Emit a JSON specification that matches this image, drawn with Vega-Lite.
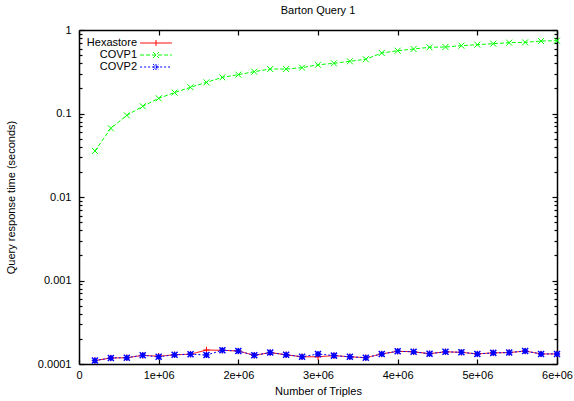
{
  "$schema": "https://vega.github.io/schema/vega-lite/v6.json",
  "width": 478,
  "height": 334,
  "autosize": "none",
  "padding": {"left": 79, "top": 30, "right": 17, "bottom": 37},
  "background": "white",
  "config": {
    "font": "Liberation Sans",
    "view": {"stroke": null},
    "axis": {"grid": false, "labelFont": "Liberation Sans", "titleFont": "Liberation Sans", "labelFontSize": 11, "titleFontSize": 11, "titleFontWeight": "normal", "labelColor": "black", "titleColor": "black", "domainColor": "black", "tickColor": "black", "domainWidth": 1.5, "tickWidth": 1.2}
  },
  "title": {"text": "Barton Query 1", "fontSize": 11, "fontWeight": "normal", "font": "Liberation Sans", "color": "black", "offset": 8},
  "data": {
    "values": [
      {"triples": 200000, "series": "Hexastore", "time": 0.000110},
      {"triples": 400000, "series": "Hexastore", "time": 0.000118},
      {"triples": 600000, "series": "Hexastore", "time": 0.000119},
      {"triples": 800000, "series": "Hexastore", "time": 0.000127},
      {"triples": 1000000, "series": "Hexastore", "time": 0.000124},
      {"triples": 1200000, "series": "Hexastore", "time": 0.000129},
      {"triples": 1400000, "series": "Hexastore", "time": 0.000131},
      {"triples": 1600000, "series": "Hexastore", "time": 0.000147},
      {"triples": 1800000, "series": "Hexastore", "time": 0.000146},
      {"triples": 2000000, "series": "Hexastore", "time": 0.000143},
      {"triples": 2200000, "series": "Hexastore", "time": 0.000127},
      {"triples": 2400000, "series": "Hexastore", "time": 0.000137},
      {"triples": 2600000, "series": "Hexastore", "time": 0.000129},
      {"triples": 2800000, "series": "Hexastore", "time": 0.000122},
      {"triples": 3000000, "series": "Hexastore", "time": 0.000122},
      {"triples": 3200000, "series": "Hexastore", "time": 0.000126},
      {"triples": 3400000, "series": "Hexastore", "time": 0.000122},
      {"triples": 3600000, "series": "Hexastore", "time": 0.000119},
      {"triples": 3800000, "series": "Hexastore", "time": 0.000132},
      {"triples": 4000000, "series": "Hexastore", "time": 0.000142},
      {"triples": 4200000, "series": "Hexastore", "time": 0.000140},
      {"triples": 4400000, "series": "Hexastore", "time": 0.000133},
      {"triples": 4600000, "series": "Hexastore", "time": 0.000140},
      {"triples": 4800000, "series": "Hexastore", "time": 0.000138},
      {"triples": 5000000, "series": "Hexastore", "time": 0.000132},
      {"triples": 5200000, "series": "Hexastore", "time": 0.000136},
      {"triples": 5400000, "series": "Hexastore", "time": 0.000137},
      {"triples": 5600000, "series": "Hexastore", "time": 0.000143},
      {"triples": 5800000, "series": "Hexastore", "time": 0.000132},
      {"triples": 6000000, "series": "Hexastore", "time": 0.000132},
      {"triples": 200000, "series": "COVP1", "time": 0.0356},
      {"triples": 400000, "series": "COVP1", "time": 0.0665},
      {"triples": 600000, "series": "COVP1", "time": 0.095},
      {"triples": 800000, "series": "COVP1", "time": 0.122},
      {"triples": 1000000, "series": "COVP1", "time": 0.152},
      {"triples": 1200000, "series": "COVP1", "time": 0.178},
      {"triples": 1400000, "series": "COVP1", "time": 0.206},
      {"triples": 1600000, "series": "COVP1", "time": 0.236},
      {"triples": 1800000, "series": "COVP1", "time": 0.271},
      {"triples": 2000000, "series": "COVP1", "time": 0.292},
      {"triples": 2200000, "series": "COVP1", "time": 0.317},
      {"triples": 2400000, "series": "COVP1", "time": 0.341},
      {"triples": 2600000, "series": "COVP1", "time": 0.341},
      {"triples": 2800000, "series": "COVP1", "time": 0.354},
      {"triples": 3000000, "series": "COVP1", "time": 0.383},
      {"triples": 3200000, "series": "COVP1", "time": 0.399},
      {"triples": 3400000, "series": "COVP1", "time": 0.422},
      {"triples": 3600000, "series": "COVP1", "time": 0.446},
      {"triples": 3800000, "series": "COVP1", "time": 0.530},
      {"triples": 4000000, "series": "COVP1", "time": 0.565},
      {"triples": 4200000, "series": "COVP1", "time": 0.592},
      {"triples": 4400000, "series": "COVP1", "time": 0.621},
      {"triples": 4600000, "series": "COVP1", "time": 0.626},
      {"triples": 4800000, "series": "COVP1", "time": 0.649},
      {"triples": 5000000, "series": "COVP1", "time": 0.667},
      {"triples": 5200000, "series": "COVP1", "time": 0.686},
      {"triples": 5400000, "series": "COVP1", "time": 0.705},
      {"triples": 5600000, "series": "COVP1", "time": 0.711},
      {"triples": 5800000, "series": "COVP1", "time": 0.738},
      {"triples": 6000000, "series": "COVP1", "time": 0.745},
      {"triples": 200000, "series": "COVP2", "time": 0.000110},
      {"triples": 400000, "series": "COVP2", "time": 0.000118},
      {"triples": 600000, "series": "COVP2", "time": 0.000119},
      {"triples": 800000, "series": "COVP2", "time": 0.000127},
      {"triples": 1000000, "series": "COVP2", "time": 0.000122},
      {"triples": 1200000, "series": "COVP2", "time": 0.000129},
      {"triples": 1400000, "series": "COVP2", "time": 0.000131},
      {"triples": 1600000, "series": "COVP2", "time": 0.000128},
      {"triples": 1800000, "series": "COVP2", "time": 0.000146},
      {"triples": 2000000, "series": "COVP2", "time": 0.000143},
      {"triples": 2200000, "series": "COVP2", "time": 0.000127},
      {"triples": 2400000, "series": "COVP2", "time": 0.000137},
      {"triples": 2600000, "series": "COVP2", "time": 0.000129},
      {"triples": 2800000, "series": "COVP2", "time": 0.000122},
      {"triples": 3000000, "series": "COVP2", "time": 0.000132},
      {"triples": 3200000, "series": "COVP2", "time": 0.000126},
      {"triples": 3400000, "series": "COVP2", "time": 0.000122},
      {"triples": 3600000, "series": "COVP2", "time": 0.000119},
      {"triples": 3800000, "series": "COVP2", "time": 0.000132},
      {"triples": 4000000, "series": "COVP2", "time": 0.000142},
      {"triples": 4200000, "series": "COVP2", "time": 0.000140},
      {"triples": 4400000, "series": "COVP2", "time": 0.000133},
      {"triples": 4600000, "series": "COVP2", "time": 0.000140},
      {"triples": 4800000, "series": "COVP2", "time": 0.000138},
      {"triples": 5000000, "series": "COVP2", "time": 0.000132},
      {"triples": 5200000, "series": "COVP2", "time": 0.000136},
      {"triples": 5400000, "series": "COVP2", "time": 0.000137},
      {"triples": 5600000, "series": "COVP2", "time": 0.000143},
      {"triples": 5800000, "series": "COVP2", "time": 0.000132},
      {"triples": 6000000, "series": "COVP2", "time": 0.000132}
    ]
  },
  "resolve": {"axis": {"x": "independent", "y": "independent"}},
  "layer": [
    {
      "mark": {"type": "line", "strokeWidth": 1, "clip": true},
      "encoding": {
        "x": {"field": "triples", "type": "quantitative", "scale": {"domain": [0, 6000000], "nice": false, "zero": false},
              "axis": {"orient": "bottom", "title": "Number of Triples", "values": [0, 1000000, 2000000, 3000000, 4000000, 5000000, 6000000],
                       "labelExpr": "datum.value == 0 ? '0' : (datum.value / 1000000) + 'e+06'", "tickSize": -5, "labelPadding": 10, "titlePadding": 5, "labelFlush": false}},
        "y": {"field": "time", "type": "quantitative", "scale": {"type": "log", "domain": [0.0001, 1], "nice": false},
              "axis": {"orient": "left", "title": "Query response time (seconds)",
                       "values": [0.0001, 0.0002, 0.0003, 0.0004, 0.0005, 0.0006, 0.0007, 0.0008, 0.0009, 0.001, 0.002, 0.003, 0.004, 0.005, 0.006, 0.007, 0.008, 0.009, 0.01, 0.02, 0.03, 0.04, 0.05, 0.06, 0.07, 0.08, 0.09, 0.1, 0.2, 0.3, 0.4, 0.5, 0.6, 0.7, 0.8, 0.9, 1],
                       "labelExpr": "datum.value == 1 ? '1' : datum.value == 0.1 ? '0.1' : datum.value == 0.01 ? '0.01' : datum.value == 0.001 ? '0.001' : datum.value == 0.0001 ? '0.0001' : ''",
                       "tickSize": {"condition": {"test": "indexof([0.0001, 0.001, 0.01, 0.1, 1], datum.value) >= 0", "value": -5}, "value": -3},
                       "labelPadding": 13, "titlePadding": 21, "labelFlush": false}},
        "color": {"field": "series", "type": "nominal", "scale": {"domain": ["Hexastore", "COVP1", "COVP2"], "range": ["#ff0000", "#00ff00", "#0000ff"]}},
        "strokeDash": {"field": "series", "type": "nominal", "scale": {"domain": ["Hexastore", "COVP1", "COVP2"], "range": [[1, 0], [4, 2], [2, 2]]}}
      }
    },
    {
      "transform": [{"filter": "datum.series == 'Hexastore'"}],
      "mark": {"type": "point", "shape": "M-1,0H1M0,-1V1", "filled": false, "size": 42, "strokeWidth": 1, "opacity": 1},
      "encoding": {
        "x": {"field": "triples", "type": "quantitative", "axis": null},
        "y": {"field": "time", "type": "quantitative", "axis": null},
        "color": {"field": "series", "type": "nominal"}
      }
    },
    {
      "transform": [{"filter": "datum.series == 'COVP1'"}],
      "mark": {"type": "point", "shape": "M-1,-1L1,1M-1,1L1,-1", "filled": false, "size": 36, "strokeWidth": 1, "opacity": 1},
      "encoding": {
        "x": {"field": "triples", "type": "quantitative", "axis": null},
        "y": {"field": "time", "type": "quantitative", "axis": null},
        "color": {"field": "series", "type": "nominal"}
      }
    },
    {
      "transform": [{"filter": "datum.series == 'COVP2'"}],
      "mark": {"type": "point", "shape": "M-1,0H1M0,-1V1M-1,-1L1,1M-1,1L1,-1", "filled": false, "size": 36, "strokeWidth": 1.5, "opacity": 1},
      "encoding": {
        "x": {"field": "triples", "type": "quantitative", "axis": null},
        "y": {"field": "time", "type": "quantitative", "axis": null},
        "color": {"field": "series", "type": "nominal"}
      }
    },
    {
      "mark": {"type": "point", "filled": false, "size": 36, "opacity": 0},
      "encoding": {
        "x": {"field": "triples", "type": "quantitative",
              "axis": {"orient": "top", "title": null, "labels": false, "values": [0, 1000000, 2000000, 3000000, 4000000, 5000000, 6000000], "tickSize": -5}},
        "y": {"field": "time", "type": "quantitative",
              "axis": {"orient": "right", "title": null, "labels": false,
                       "values": [0.0001, 0.0002, 0.0003, 0.0004, 0.0005, 0.0006, 0.0007, 0.0008, 0.0009, 0.001, 0.002, 0.003, 0.004, 0.005, 0.006, 0.007, 0.008, 0.009, 0.01, 0.02, 0.03, 0.04, 0.05, 0.06, 0.07, 0.08, 0.09, 0.1, 0.2, 0.3, 0.4, 0.5, 0.6, 0.7, 0.8, 0.9, 1],
                       "tickSize": {"condition": {"test": "indexof([0.0001, 0.001, 0.01, 0.1, 1], datum.value) >= 0", "value": -5}, "value": -3}}},
        "color": {"field": "series", "type": "nominal",
                  "legend": {"title": null, "orient": "none", "legendX": 71.5, "legendY": 7.5, "labelAlign": "right", "labelOffset": -24.5, "symbolOffset": 0,
                             "labelFontSize": 11, "labelFont": "Liberation Sans", "labelColor": "black", "symbolOpacity": 1, "symbolSize": 36, "symbolStrokeWidth": 1, "rowPadding": 0, "padding": 0}},
        "shape": {"field": "series", "type": "nominal",
                  "scale": {"domain": ["Hexastore", "COVP1", "COVP2"],
                            "range": ["M-5.3,0H5.3M0,-1V1", "M-5.3,0H5.3M-1,-1L1,1M-1,1L1,-1", "M-5.3,0H5.3M-1,0H1M0,-1V1M-1,-1L1,1M-1,1L1,-1"]}},
        "strokeDash": {"field": "series", "type": "nominal"}
      }
    }
  ]
}
